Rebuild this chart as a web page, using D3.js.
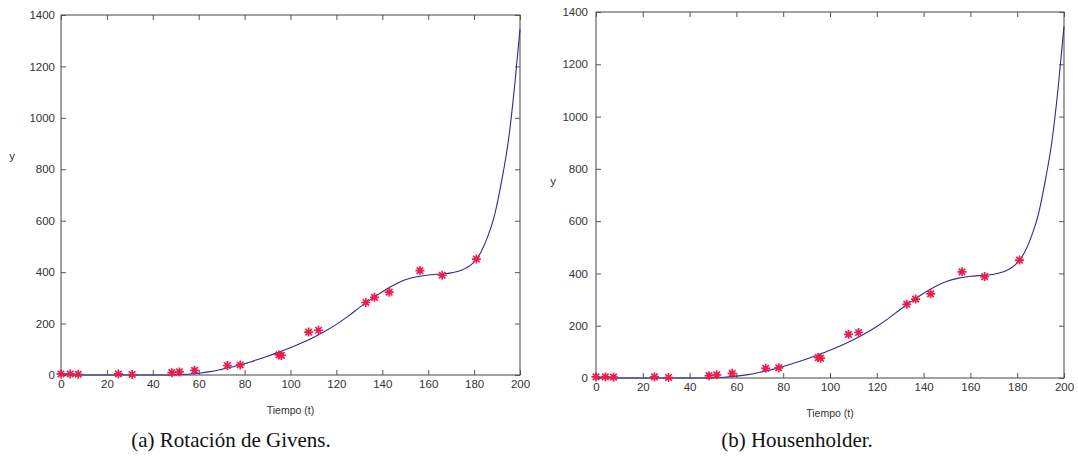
<!DOCTYPE html>
<html>
<head>
<meta charset="utf-8">
<script src="https://cdn.jsdelivr.net/npm/d3@7"></script>
<style>
  html, body { margin: 0; padding: 0; background: #fff; }
  svg { display: block; }
</style>
</head>
<body>
<svg id="fig" width="1078" height="470"></svg>
<script>
// Measured samples (time t, value y)
const sampleT = [0, 4, 7.5, 25, 31, 48.3, 51.6, 58.2, 72.5, 78.1, 95, 96, 107.9, 112.2, 132.8, 136.6, 143, 156.4, 166.1, 181];
const sampleY = [4, 4, 3, 4, 2, 9, 12, 18, 37, 39, 78, 76, 167, 174, 282, 302, 322, 406, 388, 451];

// Fitted curve, sampled along t
const fitT = [0, 10, 20, 30, 40, 50, 55, 60, 65, 70, 75, 80, 85, 90, 95, 100, 105, 110, 115, 120, 125, 130, 135, 140, 145, 150, 155, 160, 165, 170, 175, 180, 183, 186, 189, 192, 195, 197.5, 200];
const fitY = [1, 0, 0, 0, 0, 1, 3, 7, 13, 22, 32, 44, 58, 73, 89, 106, 125, 146, 170, 197, 228, 262, 294, 324, 350, 370, 382, 389, 393, 397, 409, 440, 478, 540, 625, 755, 915, 1110, 1345];

// Axis ticks
const xTicks = [0, 20, 40, 60, 80, 100, 120, 140, 160, 180, 200];
const yTicks = [0, 200, 400, 600, 800, 1000, 1200, 1400];

// Panel captions
const captions = ["(a) Rotación de Givens.", "(b) Housenholder."];

const svg = d3.select("#fig");

const panels = [
  { left: 61, right: 520, top: 15, bottom: 375, yLabX: 12, yLabY: 160, xLabY: 414, capX: 231, yGap: 6 },
  { left: 596, right: 1064, top: 12, bottom: 378, yLabX: 553, yLabY: 185, xLabY: 417, capX: 797, yGap: 8 }
];

const tickFont = "'Liberation Sans', Arial, sans-serif";

panels.forEach((p, i) => {
  const g = svg.append("g");
  const x = d3.scaleLinear().domain([0, 200]).range([p.left, p.right]);
  const y = d3.scaleLinear().domain([0, 1400]).range([p.bottom, p.top]);

  // bottom axis with labels, ticks pointing inward
  const bx = g.append("g").attr("transform", `translate(0,${p.bottom})`)
    .call(d3.axisBottom(x).tickValues(xTicks).tickSizeInner(-5).tickSizeOuter(0).tickPadding(5).tickFormat(d3.format("d")));
  const ly = g.append("g").attr("transform", `translate(${p.left},0)`)
    .call(d3.axisLeft(y).tickValues(yTicks).tickSizeInner(-5).tickSizeOuter(0).tickPadding(p.yGap).tickFormat(d3.format("d")));
  const tx = g.append("g").attr("transform", `translate(0,${p.top})`)
    .call(d3.axisTop(x).tickValues(xTicks).tickSizeInner(-5).tickSizeOuter(0).tickFormat(""));
  const ry = g.append("g").attr("transform", `translate(${p.right},0)`)
    .call(d3.axisRight(y).tickValues(yTicks).tickSizeInner(-5).tickSizeOuter(0).tickFormat(""));

  [bx, ly, tx, ry].forEach(a => {
    a.select(".domain").remove();
    a.selectAll(".tick line").attr("stroke", "#555").attr("stroke-width", 1);
    a.selectAll(".tick text").attr("fill", "#333").style("font-family", tickFont).style("font-size", "11.5px");
  });

  // frame
  g.append("rect")
    .attr("x", p.left).attr("y", p.top)
    .attr("width", p.right - p.left).attr("height", p.bottom - p.top)
    .attr("fill", "none").attr("stroke", "#555").attr("stroke-width", 1.1);

  // fitted curve
  const line = d3.line()
    .x((d, k) => x(fitT[k]))
    .y(d => y(d))
    .curve(d3.curveMonotoneX);
  g.append("path")
    .datum(fitY)
    .attr("d", line)
    .attr("fill", "none")
    .attr("stroke", "#2b2b9a")
    .attr("stroke-width", 1.1);

  // asterisk markers
  const r = 4.5, rd = r * 0.72;
  const star = `M${-r},0L${r},0M0,${-r}L0,${r}M${-rd},${-rd}L${rd},${rd}M${-rd},${rd}L${rd},${-rd}`;
  g.append("g").selectAll("path")
    .data(sampleY)
    .join("path")
    .attr("transform", (d, k) => `translate(${x(sampleT[k])},${y(d)})`)
    .attr("d", star)
    .attr("fill", "none")
    .attr("stroke", "#ea1d4c")
    .attr("stroke-width", 1.7);

  // axis titles
  g.append("text")
    .attr("x", (p.left + p.right) / 2).attr("y", p.xLabY)
    .attr("text-anchor", "middle")
    .attr("fill", "#333")
    .style("font-family", tickFont).style("font-size", "10.5px")
    .text("Tiempo (t)");
  g.append("text")
    .attr("x", p.yLabX).attr("y", p.yLabY)
    .attr("text-anchor", "middle")
    .attr("fill", "#333")
    .style("font-family", tickFont).style("font-size", "11.5px")
    .text("y");

  // caption
  svg.append("text")
    .attr("x", p.capX).attr("y", 447)
    .attr("text-anchor", "middle")
    .attr("fill", "#111")
    .style("font-family", "'Liberation Serif', 'DejaVu Serif', serif")
    .style("font-size", "21px")
    .text(captions[i]);
});
</script>
</body>
</html>
